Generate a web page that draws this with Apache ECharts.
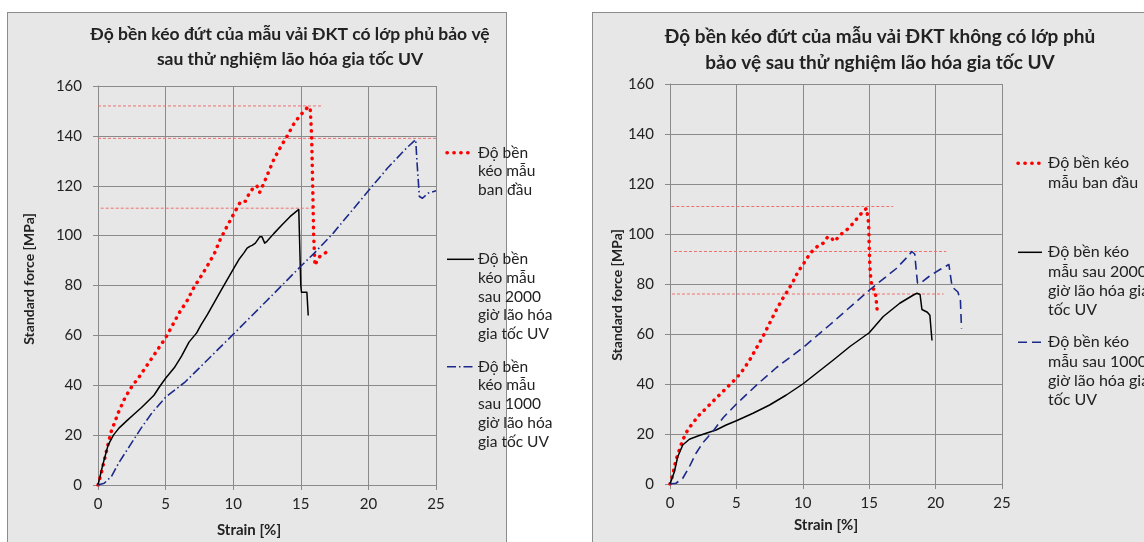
<!DOCTYPE html>
<html>
<head>
<meta charset="utf-8">
<script src="https://cdn.jsdelivr.net/npm/echarts@6/dist/echarts.min.js"></script>
<style>
html,body{margin:0;padding:0;background:#fff;width:1144px;height:542px;overflow:hidden;}
.panel{position:absolute;background:#e7e7e7;border:1px solid #8c8c8c;box-sizing:border-box;}
#chart{position:absolute;left:0;top:0;width:1144px;height:542px;}
</style>
</head>
<body>
<div class="panel" style="left:7px;top:12px;width:500px;height:560px;"></div>
<div class="panel" style="left:592px;top:12px;width:600px;height:560px;"></div>
<div id="chart"></div>
<script>
// ---------- data ----------
const titleLeft = 'Độ bền kéo đứt của mẫu vải ĐKT có lớp phủ bảo vệ\nsau thử nghiệm lão hóa gia tốc UV';
const titleRight = 'Độ bền kéo đứt của mẫu vải ĐKT không có lớp phủ\nbảo vệ sau thử nghiệm lão hóa gia tốc UV';
const xAxisName = 'Strain [%]';
const yAxisName = 'Standard force [MPa]';
const xTicks = [0, 5, 10, 15, 20, 25];
const yTicks = [0, 20, 40, 60, 80, 100, 120, 140, 160];

const legendLeft = ['Độ bền\nkéo mẫu\nban đầu', 'Độ bền\nkéo mẫu\nsau 2000\ngiờ lão hóa\ngia tốc UV', 'Độ bền\nkéo mẫu\nsau 1000\ngiờ lão hóa\ngia tốc UV'];
const legendRight = ['Độ bền kéo\nmẫu ban đầu', 'Độ bền kéo\nmẫu sau 2000\ngiờ lão hóa gia\ntốc UV', 'Độ bền kéo\nmẫu sau 1000\ngiờ lão hóa gia\ntốc UV'];

// Left chart (with protective coating)
const leftInitial = [[0,0],[0.3,6],[0.6,13],[0.95,21],[1.5,29],[2,35],[2.5,39.5],[3,43],[3.5,47],[4,51],[4.5,55],[5,59],[5.5,64],[6,69],[6.6,74],[7.1,79.3],[7.6,83.5],[8.1,88],[8.6,92.7],[9,98],[9.5,103.3],[9.9,107.3],[10.3,111.3],[10.55,113.7],[10.9,113.8],[11.15,116.5],[11.5,119.3],[11.75,120],[11.95,117.3],[12.1,119],[12.5,124],[13,130.5],[13.5,135.5],[14,140],[14.45,144.5],[14.85,147.5],[15.25,150],[15.57,151.8],[15.7,150.7],[15.8,140],[15.88,120],[15.95,100],[16.05,88],[16.2,90],[16.4,91.6],[16.85,93.2]];
const left2000h = [[0,0],[0.33,7.6],[0.74,15.9],[1.14,20],[1.55,22.8],[2.1,25.6],[2.64,28.3],[3.2,31],[3.73,33.8],[4.14,36],[4.55,39.4],[5,42.8],[5.64,47],[6.19,51.8],[6.73,57.3],[7.3,61],[7.6,64],[8.1,68.4],[8.58,73],[9.07,77.7],[9.56,82.4],[10.05,87],[10.42,90.4],[10.78,93],[11.03,95],[11.23,95.7],[11.4,96.1],[11.64,97],[11.96,99.5],[12.13,99.5],[12.33,97],[12.5,97.7],[13,100.8],[13.6,104.3],[14.2,107.6],[14.85,110.5],[15,80],[15.05,77.3],[15.45,77.3],[15.55,68]];
const left1000h = [[0,0],[0.46,0.7],[1,3.5],[1.55,9],[2.37,15.9],[3.19,22.8],[4,29],[5,35.2],[6.46,41.4],[7.6,47.5],[10,60.4],[12.5,74],[15,87.7],[16,93],[17.4,101],[20,118],[21.4,127],[22.8,135],[23.5,138.5],[23.6,129],[23.77,115.7],[24,115],[24.4,117],[25,118]];
// reference lines: [value, xStart, xEnd]
const leftRefs = [[152,0,16.5],[139,0,25.4],[111,0.2,16.1]];

// Right chart (without protective coating)
const rightInitial = [[0,0],[0.2,3.6],[0.45,9.6],[0.7,13.6],[0.96,17.6],[1.33,21.6],[1.71,24.3],[2.2,27.6],[2.72,30.3],[3.22,33],[3.72,35.6],[4.23,38.3],[5,42.3],[5.5,45.6],[6,49.6],[6.5,54.3],[7,59],[7.5,64.3],[8,69.6],[8.5,74.3],[8.9,77.6],[9.27,81],[9.65,85],[10,87.6],[10.4,91],[10.78,93.6],[11.16,95.3],[11.53,96.3],[11.9,99],[12.16,98.3],[12.4,97],[12.8,99.6],[13.3,101.6],[13.8,104.3],[14.3,107.6],[14.8,110.3],[14.9,110.5],[14.96,104.3],[15,95],[15.05,87],[15.13,81.6],[15.23,78.3],[15.43,77.6],[15.5,75],[15.6,69.6]];
const right2000h = [[0,0],[0.33,4.9],[0.58,10.9],[0.96,15.6],[1.46,17.9],[2.1,19.2],[2.72,20.3],[3.47,21.6],[4.23,23.6],[5,25.3],[6.25,28.3],[7.5,31.6],[8.76,35.6],[10,40],[11.03,44.3],[12.3,49.6],[13.55,55],[15,60.5],[16.06,67],[17.3,72.3],[18.33,75.6],[18.6,76.3],[18.83,75.8],[18.97,69.8],[19.1,69.2],[19.38,68.7],[19.57,67.5],[19.65,62.2],[19.73,57.4]];
const right1000h = [[0,0],[0.45,0.3],[0.96,2.3],[1.46,6.9],[1.96,12.3],[2.47,16.5],[3.27,21.3],[4,26.5],[5,32],[6.6,40],[8,46.5],[10,54.5],[12,63.5],[15,77.5],[17,86],[18,91.5],[18.2,93],[18.43,92],[18.56,84.4],[18.64,80.4],[18.83,80.2],[19.5,83],[20.33,85.8],[21,87.8],[21.14,87.2],[21.22,79.7],[21.4,78.1],[21.68,76.8],[21.87,73.3],[21.95,62.2]];
const rightRefs = [[111,0.1,16.8],[93,0.3,20.8],[76,0.15,20.6]];

// ---------- styles ----------
const FONT = 'Lato, "Open Sans", sans-serif';
const RED = '#ff0000', BLACK = '#000000', NAVY = '#1b2a8a', REF = '#f07070';
const gridCol = '#8a8a8a';
const styles = {
  initial: {color: RED, width: 3.5, type: [0.3, 6.6], cap: 'round'},
  h2000: {color: BLACK, width: 1.5, type: 'solid', cap: 'butt'},
  h1000L: {color: NAVY, width: 1.6, type: [9, 3, 1.5, 3], cap: 'butt'},
  h1000R: {color: NAVY, width: 1.6, type: [9, 5], cap: 'butt'}
};

const grids = [
  {left: 98, top: 86, width: 338, height: 399},
  {left: 670, top: 84, width: 332, height: 400}
];

function xAx(gi) {
  return {gridIndex: gi, type: 'value', min: 0, max: 25, interval: 5,
    axisLine: {show: true, lineStyle: {color: gridCol}},
    axisTick: {show: true, length: 5, lineStyle: {color: gridCol}},
    splitLine: {show: true, lineStyle: {color: gridCol, width: 1}},
    axisLabel: {margin: 12, fontFamily: FONT, fontSize: 15, color: '#222'}};
}
function yAx(gi) {
  return {gridIndex: gi, type: 'value', min: 0, max: 160, interval: 20,
    axisLine: {show: true, lineStyle: {color: gridCol}},
    axisTick: {show: true, length: 5, lineStyle: {color: gridCol}},
    splitLine: {show: true, lineStyle: {color: gridCol, width: 1}},
    axisLabel: {margin: 16, fontFamily: FONT, fontSize: 15, color: '#222'}};
}

function lineSeries(data, st, gi, name) {
  return {type: 'line', name: name, xAxisIndex: gi, yAxisIndex: gi, data: data,
    showSymbol: false, symbol: 'none', smooth: false, silent: true, animation: false, z: 3,
    lineStyle: {color: st.color, width: st.width, type: st.type, cap: st.cap, join: 'round'}};
}
function refSeries(refs, gi) {
  return refs.map(r => ({type: 'line', xAxisIndex: gi, yAxisIndex: gi,
    data: [[r[1], r[0]], [r[2], r[0]]], symbol: 'none', silent: true, animation: false, clip: false, z: 2,
    lineStyle: {color: REF, width: 1, type: [3, 2]}}));
}

const series = [].concat(
  refSeries(leftRefs, 0),
  [lineSeries(leftInitial, styles.initial, 0, 'a'), lineSeries(left2000h, styles.h2000, 0, 'b'), lineSeries(left1000h, styles.h1000L, 0, 'c')],
  refSeries(rightRefs, 1),
  [lineSeries(rightInitial, styles.initial, 1, 'd'), lineSeries(right2000h, styles.h2000, 1, 'e'), lineSeries(right1000h, styles.h1000R, 1, 'f')]
);

// legend drawn as graphic
function legendGraphic(texts, stylesArr, sx1, sx2, tx, firstCenters, lh, fs) {
  const els = [];
  texts.forEach((t, i) => {
    const st = stylesArr[i];
    const cy = firstCenters[i];
    els.push({type: 'line', silent: true, shape: {x1: sx1, y1: cy, x2: sx2, y2: cy},
      style: {stroke: st.color, lineWidth: st.width, lineDash: Array.isArray(st.type) ? st.type : null, lineCap: st.cap}});
    els.push({type: 'text', silent: true, x: tx, y: cy - lh / 2,
      style: {text: t, fill: '#222', font: fs + 'px ' + FONT, lineHeight: lh, align: 'left', verticalAlign: 'top'}});
  });
  return els;
}

const graphics = [].concat(
  legendGraphic(legendLeft, [styles.initial, styles.h2000, styles.h1000L], 447, 474, 478, [152.7, 259.3, 366.7], 18.7, 15.5),
  legendGraphic(legendRight, [styles.initial, styles.h2000, styles.h1000R], 1018, 1042, 1048, [163.3, 252.3, 342.3], 19.3, 16),
  [
    {type: 'text', silent: true, x: 29, y: 279, rotation: Math.PI / 2,
      style: {text: yAxisName, font: 'bold 14px ' + FONT, fill: '#222', align: 'center', verticalAlign: 'middle'}},
    {type: 'text', silent: true, x: 617, y: 295, rotation: Math.PI / 2,
      style: {text: yAxisName, font: 'bold 14px ' + FONT, fill: '#222', align: 'center', verticalAlign: 'middle'}},
    {type: 'text', silent: true, x: 249, y: 530,
      style: {text: xAxisName, font: 'bold 15px ' + FONT, fill: '#222', align: 'center', verticalAlign: 'middle'}},
    {type: 'text', silent: true, x: 826, y: 525,
      style: {text: xAxisName, font: 'bold 15px ' + FONT, fill: '#222', align: 'center', verticalAlign: 'middle'}}
  ]
);

const chart = echarts.init(document.getElementById('chart'), null, {renderer: 'canvas'});
chart.setOption({
  backgroundColor: 'transparent',
  animation: false,
  title: [
    {text: titleLeft, left: 285, top: 17, textAlign: 'center',
      textStyle: {fontFamily: FONT, fontWeight: 'bold', fontSize: 17.5, lineHeight: 25, color: '#222'}},
    {text: titleRight, left: 875, top: 19, textAlign: 'center',
      textStyle: {fontFamily: FONT, fontWeight: 'bold', fontSize: 19, lineHeight: 26, color: '#222'}}
  ],
  grid: grids,
  xAxis: [xAx(0), xAx(1)],
  yAxis: [yAx(0), yAx(1)],
  series: series,
  graphic: graphics
});
</script>
</body>
</html>
